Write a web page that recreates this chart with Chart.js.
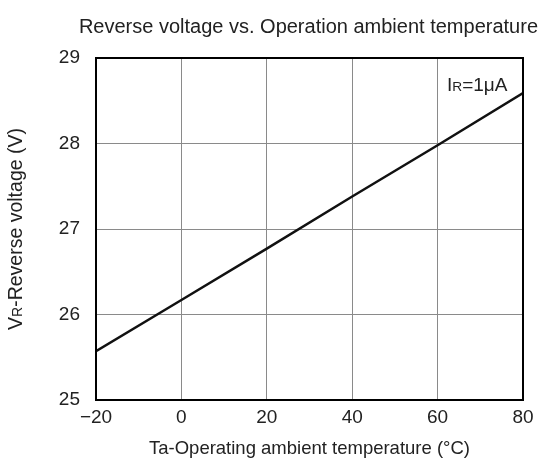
<!DOCTYPE html>
<html>
<head>
<meta charset="utf-8">
<script src="https://cdn.jsdelivr.net/npm/chart.js@4"></script>
<style>
html,body{margin:0;padding:0;background:#fff;}
#wrap{width:542px;height:463px;}
</style>
</head>
<body>
<div id="wrap"><canvas id="c" width="542" height="463"></canvas></div>
<script>
const temperatures = [-20, 0, 20, 40, 60, 80];
const reverseVoltage = [25.57, 26.17, 26.77, 27.38, 27.98, 28.59];
const xTicks = [-20, 0, 20, 40, 60, 80];
const yTicks = [25, 26, 27, 28, 29];
const chartTitle = 'Reverse voltage vs. Operation ambient temperature';
const xTitle = 'Ta-Operating ambient temperature (°C)';
const yTitleParts = [['V', false], ['R', true], ['-Reverse voltage (V)', false]];
const noteParts = [['I', false], ['R', true], ['=1μA', false]];

const FONT = 'Liberation Sans, Arial, Helvetica, sans-serif';
const TXT = '#222';

function drawParts(ctx, parts, size, x, y, align) {
  let total = 0;
  const widths = parts.map(p => {
    ctx.font = (p[1] ? size * 0.72 : size) + 'px ' + FONT;
    const w = ctx.measureText(p[0]).width;
    total += w;
    return w;
  });
  let cx = align === 'center' ? x - total / 2 : x;
  parts.forEach((p, i) => {
    ctx.font = (p[1] ? size * 0.72 : size) + 'px ' + FONT;
    ctx.fillText(p[0], cx, y);
    cx += widths[i];
  });
}

const extras = {
  id: 'extras',
  afterDraw(chart) {
    const ctx = chart.ctx;
    const a = chart.chartArea;
    ctx.save();
    ctx.strokeStyle = '#000';
    ctx.lineWidth = 2;
    ctx.strokeRect(a.left, a.top, a.right - a.left, a.bottom - a.top);
    ctx.fillStyle = TXT;
    ctx.textBaseline = 'alphabetic';
    ctx.textAlign = 'left';
    drawParts(ctx, noteParts, 19, 447, 91, 'left');
    ctx.translate(22, (a.top + a.bottom) / 2);
    ctx.rotate(-Math.PI / 2);
    drawParts(ctx, yTitleParts, 19.5, 0, 0, 'center');
    ctx.restore();
  }
};

new Chart(document.getElementById('c'), {
  type: 'line',
  data: {
    datasets: [{
      data: temperatures.map((t, i) => ({x: t, y: reverseVoltage[i]})),
      borderColor: '#111',
      borderWidth: 2.5,
      pointRadius: 0,
      tension: 0,
      fill: false
    }]
  },
  options: {
    responsive: false,
    animation: false,
    devicePixelRatio: 1,
    layout: {padding: {left: 0, right: 4, top: 0, bottom: 0}},
    plugins: {
      legend: {display: false},
      tooltip: {enabled: false},
      title: {
        display: true,
        text: chartTitle,
        fullSize: true,
        align: 'end',
        color: TXT,
        font: {family: FONT, size: 20, weight: 'normal'},
        padding: {top: 15, bottom: 19}
      }
    },
    scales: {
      x: {
        type: 'linear',
        min: -20, max: 80,
        afterBuildTicks: s => { s.ticks = xTicks.map(v => ({value: v})); },
        afterFit: s => { s.height = 63; },
        grid: {color: '#8a8a8a', lineWidth: 1, drawTicks: false},
        border: {display: true, color: '#000', width: 2},
        ticks: {
          color: TXT,
          padding: 6,
          maxRotation: 0,
          font: {family: FONT, size: 19},
          callback: v => String(v).replace('-', '\u2212')
        },
        title: {
          display: true,
          text: xTitle,
          color: TXT,
          font: {family: FONT, size: 18.5},
          padding: {top: 0, bottom: 3}
        }
      },
      y: {
        type: 'linear',
        min: 25, max: 29,
        afterBuildTicks: s => { s.ticks = yTicks.map(v => ({value: v})); },
        afterFit: s => { s.width = 96; },
        grid: {color: '#8a8a8a', lineWidth: 1, drawTicks: false},
        border: {display: true, color: '#000', width: 2},
        ticks: {
          color: TXT,
          padding: 16,
          font: {family: FONT, size: 19}
        }
      },
      yRight: {
        type: 'linear',
        position: 'right',
        min: 25, max: 29,
        display: true,
        grid: {display: false, drawTicks: false},
        border: {display: false},
        ticks: {display: false},
        afterFit: s => { s.width = 15; }
      }
    }
  },
  plugins: [extras]
});
</script>
</body>
</html>
